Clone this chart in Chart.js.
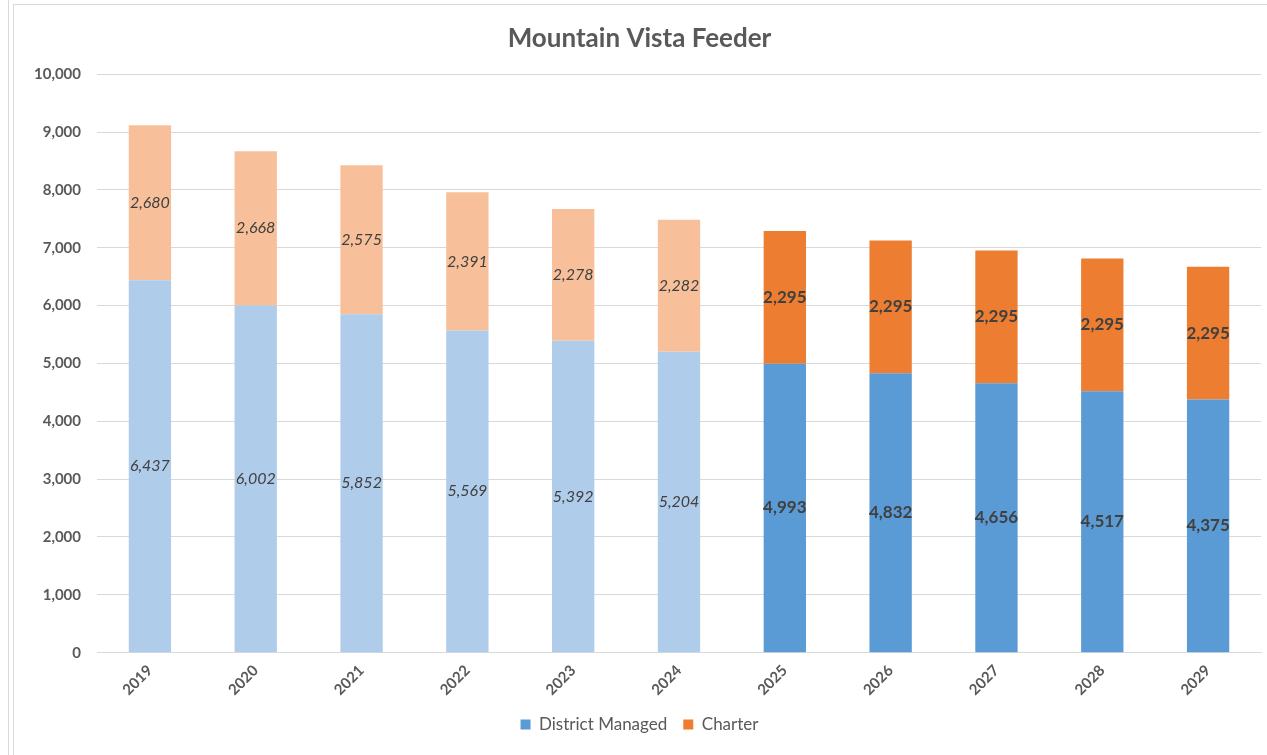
<!DOCTYPE html>
<html>
<head>
<meta charset="utf-8">
<script src="https://cdn.jsdelivr.net/npm/chart.js@4"></script>
<style>
  body { margin: 0; background: #fff; }
  #edge { position: absolute; left: 8px; top: 0; width: 1px; height: 755px; background: #d9d9d9; }
  #frame { position: absolute; left: 13px; top: 4px; width: 1260px; height: 760px;
           border-left: 1px solid #d9d9d9; border-top: 1px solid #d9d9d9; }
  #wrap { position: absolute; left: 14px; top: 5px; width: 1253px; height: 750px; }
</style>
</head>
<body>
<div id="edge"></div>
<div id="frame"></div>
<div id="wrap"><canvas id="feederChart"></canvas></div>
<script>
const years = ['2019', '2020', '2021', '2022', '2023', '2024', '2025', '2026', '2027', '2028', '2029'];
const districtManaged = [6437, 6002, 5852, 5569, 5392, 5204, 4993, 4832, 4656, 4517, 4375];
const charter = [2680, 2668, 2575, 2391, 2278, 2282, 2295, 2295, 2295, 2295, 2295];
const yTicks = [0, 1000, 2000, 3000, 4000, 5000, 6000, 7000, 8000, 9000, 10000];
const actualCount = 6; // 2019-2024 are actuals, the rest projected

const fontFamily = 'Lato, "Open Sans", sans-serif';
const grey = '#595959';
const blue = { light: '#afcdea', dark: '#5b9bd5' };
const orange = { light: '#f8c09a', dark: '#ed7d31' };

// draw the value in the middle of each bar segment
const segmentLabels = {
  id: 'segmentLabels',
  afterDatasetsDraw(chart) {
    const c = chart.ctx;
    chart.data.datasets.forEach((ds, di) => {
      chart.getDatasetMeta(di).data.forEach((bar, i) => {
        const p = bar.getProps(['x', 'y', 'base'], true);
        const actual = i < actualCount;
        c.save();
        c.font = actual ? 'italic 16px ' + fontFamily : 'bold 17px ' + fontFamily;
        c.fillStyle = '#404040';
        c.textAlign = 'center';
        c.textBaseline = 'middle';
        c.fillText(ds.data[i].toLocaleString('en-US'), p.x, (p.y + p.base) / 2);
        c.restore();
      });
    });
  }
};

const chart = new Chart(document.getElementById('feederChart'), {
  type: 'bar',
  data: {
    labels: years,
    datasets: [{
      label: 'District Managed',
      data: districtManaged,
      backgroundColor: ctx => ctx.dataIndex < actualCount ? blue.light : blue.dark
    }, {
      label: 'Charter',
      data: charter,
      backgroundColor: ctx => ctx.dataIndex < actualCount ? orange.light : orange.dark
    }]
  },
  options: {
    responsive: true,
    maintainAspectRatio: false,
    animation: false,
    barPercentage: 0.4,
    categoryPercentage: 1,
    layout: { padding: { left: 4, right: 6, top: 8, bottom: 12 } },
    scales: {
      x: {
        stacked: true,
        grid: { display: false },
        border: { color: '#d9d9d9' },
        ticks: {
          color: grey,
          font: { family: fontFamily, size: 15, weight: 'bold' },
          maxRotation: 45,
          minRotation: 45,
          padding: 1
        }
      },
      y: {
        stacked: true,
        min: 0,
        max: 10000,
        afterBuildTicks: axis => { axis.ticks = yTicks.map(v => ({ value: v })); },
        grid: { color: '#d9d9d9', drawTicks: false },
        border: { display: false },
        ticks: {
          color: grey,
          padding: 16,
          font: { family: fontFamily, size: 15, weight: 'bold' },
          callback: v => v.toLocaleString('en-US')
        }
      }
    },
    plugins: {
      title: {
        display: true,
        text: 'Mountain Vista Feeder',
        color: grey,
        font: { family: fontFamily, size: 26, weight: 'bold' },
        padding: { top: 10, bottom: 20 }
      },
      legend: {
        position: 'bottom',
        labels: {
          color: grey,
          boxWidth: 10,
          boxHeight: 10,
          padding: 16,
          font: { family: fontFamily, size: 17 },
          generateLabels: chart => {
            const items = Chart.defaults.plugins.legend.labels.generateLabels(chart);
            const dark = [blue.dark, orange.dark];
            items.forEach((it, i) => { it.fillStyle = dark[i]; it.strokeStyle = dark[i]; it.lineWidth = 0; });
            return items;
          }
        }
      },
      tooltip: { enabled: false }
    }
  },
  plugins: [segmentLabels]
});
</script>
</body>
</html>
